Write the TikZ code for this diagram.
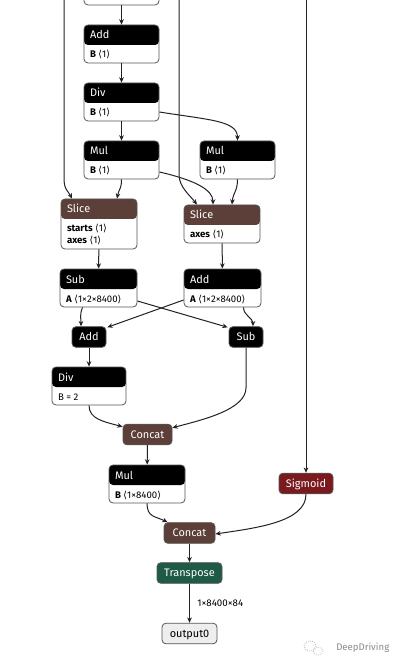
\documentclass[tikz,border=0pt]{standalone}
\usepackage{fontspec}
\setmainfont{Fira Sans}
\newfontfamily\symfont{DejaVu Sans}
\usetikzlibrary{arrows.meta,calc}

\definecolor{boxline}{HTML}{555555}
\definecolor{wirecol}{HTML}{222222}
\definecolor{shapebrown}{HTML}{5C3F38}
\definecolor{actred}{HTML}{7A1A1F}
\definecolor{transgreen}{HTML}{1E5A45}
\definecolor{outgray}{HTML}{EEEEEE}
\definecolor{markgray}{HTML}{8A8A8A}

\newcommand\hdfont{\fontsize{8.2}{9}\selectfont}
\newcommand\bdfont{\fontsize{7.2}{9}\selectfont}
\newcommand\la{{\symfont ⟨}}
\newcommand\ra{{\symfont ⟩}}
\newcommand\ind{\hspace*{4.5pt}}
% header line and attribute lines of an operator box
\newcommand\optext[4]{\parbox[t][#2][t]{#1}{\hdfont\rule{0pt}{10.5pt}\ind\textcolor{white}{#3}\par
  \vspace{5.25pt}\bdfont#4}}

\begin{document}
\begin{tikzpicture}[x=0.75pt,y=-0.75pt,>={Stealth[length=4pt,width=3.5pt]},
    op/.style={draw=boxline,line width=0.6pt,rounded corners=3pt,inner sep=0pt,fill=white,
      path picture={\fill[#1] (path picture bounding box.north west) rectangle ([yshift=-15pt]path picture bounding box.north east);}},
    op/.default=black,
    unit/.style={draw=boxline,line width=0.6pt,rounded corners=3pt,fill=#1,text=white,font=\hdfont,
      minimum height=15.5pt,inner xsep=0pt,inner ysep=0pt,text height=5.7pt,text depth=0pt},
    wire/.style={draw=wirecol,line width=0.75pt,->}]

  \fill[white] (0,0) rectangle (407,666);
  \useasboundingbox (0,0) rectangle (407,666);

  \node[op,minimum width=56.25pt,minimum height=28.5pt] (top) at (121.5,-14) {};
  \node[op] (add1) at (121.5,44) {\optext{56.25pt}{28.5pt}{Add}{\ind\textbf{B} \la1\ra}};
  \node[op] (div1) at (121.5,102) {\optext{56.25pt}{28.5pt}{Div}{\ind\textbf{B} \la1\ra}};
  \node[op] (mul1) at (121.5,160) {\optext{56.25pt}{28.5pt}{Mul}{\ind\textbf{B} \la1\ra}};
  \node[op] (mul2) at (237.5,160) {\optext{56.25pt}{28.5pt}{Mul}{\ind\textbf{B} \la1\ra}};
  \node[op=shapebrown] (slice1) at (99,224) {\optext{57pt}{37.5pt}{Slice}{\ind\textbf{starts} \la1\ra\\\ind\textbf{axes} \la1\ra}};
  \node[op=shapebrown] (slice2) at (222,224) {\optext{57pt}{28.5pt}{Slice}{\ind\textbf{axes} \la1\ra}};
  \node[op] (sub1) at (98.5,288) {\optext{57.75pt}{28.5pt}{Sub}{\ind\textbf{A} \la1×2×8400\ra}};
  \node[op] (add2) at (222.5,288) {\optext{57.75pt}{28.5pt}{Add}{\ind\textbf{A} \la1×2×8400\ra}};
  \node[unit=black,minimum width=25.5pt] (add3) at (89,337) {Add};
  \node[unit=black,minimum width=25.5pt] (sub2) at (246,337) {Sub};
  \node[op] (div2) at (89,386) {\optext{55.5pt}{28.5pt}{Div}{\ind B = 2}};
  \node[unit=shapebrown,minimum width=36.75pt] (concat1) at (147.5,434.5) {Concat};
  \node[op] (mul3) at (147,484) {\optext{57pt}{28.5pt}{Mul}{\ind\textbf{B} \la1×8400\ra}};
  \node[unit=actred,minimum width=40.5pt] (sigmoid) at (306,483.5) {Sigmoid};
  \node[unit=shapebrown,minimum width=38.25pt] (concat2) at (189.5,533) {Concat};
  \node[unit=transgreen,minimum width=48.75pt] (transpose) at (189.5,573) {Transpose};
  \node[unit=outgray,text=black,minimum width=41.25pt] (output0) at (189.5,633.5) {output0};

  \coordinate (inL) at (64,-5);
  \coordinate (inM) at (179,-5);
  \coordinate (inR) at (306,-5);

  \begin{scope}[every edge/.style={wire}]
    \path (top) edge (add1);
    \path (add1) edge (div1);
    \path (div1) edge (mul1);
    \path (slice1) edge (sub1);
    \path (slice2) edge (add2);
    \path (add3) edge (div2);
    \path (concat1) edge (mul3);
    \path (inR) edge (sigmoid);
    \path (concat2) edge (transpose);
    \path (transpose) edge node[anchor=west,inner sep=0pt,xshift=5.5pt,font=\fontsize{7.3}{9}\selectfont,name=shapelbl] {1×8400×84} (output0);
    \path ($(sub1.east)+(0,13)$) edge ($(sub2.north west)+(-1,1)$);
    \path ($(add2.west)+(0,12)$) edge ($(add3.north east)+(1,1)$);
  \end{scope}

  \draw[wire] ($(div1.east)+(0,10)$) .. controls +(50,8) and +(0,-20) .. (mul2.north);
  \draw[wire] (mul1.south) .. controls +(0,10) and +(2,-10) .. ($(slice1.north)+(18,0)$);
  \draw[wire] ($(mul1.east)+(0,12)$) .. controls +(35,8) and +(0,-15) .. ($(slice2.north)+(-9,0)$);
  \draw[wire] (mul2.south) .. controls +(0,12) and +(1,-12) .. ($(slice2.north)+(10,0)$);
  \draw[wire] (inL) -- ++(0,183) .. controls +(0,12) and +(-4,-8) .. ($(slice1.north)+(-27,0)$);
  \draw[wire] (inM) -- ++(0,180) .. controls +(0,12) and +(-6,-8) .. ($(slice2.north)+(-25,0)$);
  \draw[wire] ($(sub1.south)+(-16,0)$) .. controls +(-3,8) and +(0,-8) .. ($(add3.north)+(-8,0)$);
  \draw[wire] ($(add2.south)+(21,0)$) .. controls +(0,8) and +(0,-8) .. ($(sub2.north)+(7,0)$);
  \draw[wire] (div2.south) .. controls +(0,14) and +(-18,-5) .. ($(concat1.north west)+(0,3)$);
  \draw[wire] (sub2.south) -- ++(0,40) .. controls +(0,22) and +(30,-8) .. ($(concat1.north east)+(0,4)$);
  \draw[wire] (mul3.south) .. controls +(0,14) and +(-12,-6) .. ($(concat2.north west)+(4,0)$);
  \draw[wire] (sigmoid.south) .. controls +(0,28) and +(40,-6) .. ($(concat2.east)+(0,1)$);

  % watermark
  \draw[markgray!60,densely dotted,line width=0.6pt] (310,646) ellipse [x radius=6,y radius=5];
  \draw[markgray!60,densely dotted,line width=0.6pt] (318,651) ellipse [x radius=5,y radius=4];
  \node[anchor=west,inner sep=0pt,text=markgray,font=\fontsize{7.2}{9}\selectfont] (mark) at (336,648) {DeepDriving};

\end{tikzpicture}
\end{document}
